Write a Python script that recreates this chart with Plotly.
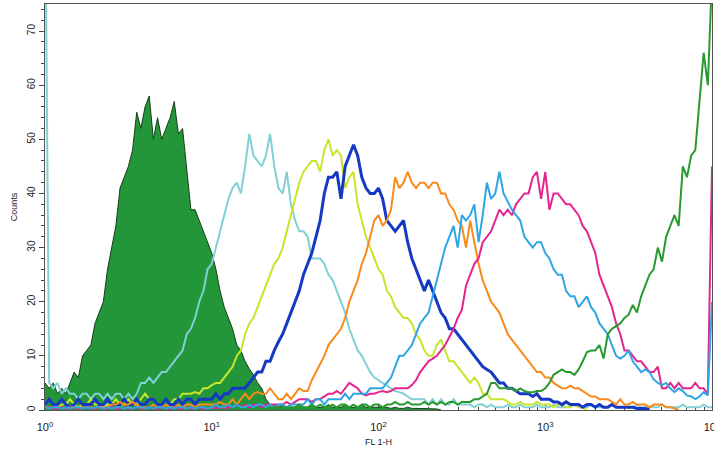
import plotly.graph_objects as go

# FL1-H channel grid: 161 channels evenly spaced over 4 log decades (1 .. 10^4)
CHANNELS_PER_DECADE = 40
N_CHANNELS = 161

# Counts per channel for each overlaid histogram (series start at channel index given)
unstained_start = 0
unstained = [5, 4, 5, 3, 4, 3, 5, 7, 6, 10,
             11, 12, 16, 18, 20, 26, 30, 34, 41, 43,
             45, 48, 55, 52, 56, 58, 50, 54, 50, 52,
             54, 57, 51, 52, 44, 37, 37, 35, 33, 31,
             29, 26, 22, 19, 17, 15, 12, 11, 9, 7.6,
             6.5, 5, 4, 2, 1, 1, 0.5, 1, 0.5, 0.5,
             0.5, 1, 0.5, 0.5, 1, 0.5, 0.5, 0.5, 1, 0.5,
             0.5, 0.5, 1, 0.5, 0.5, 0.5, 1, 0.5, 0.5, 0.5,
             0.5, 0.5, 0.5, 0.3, 0.5, 0.3, 0.3, 0.5, 0.3, 0.3,
             0.3, 0.3, 0.2, 0.2, 0.2, 0]

cyan_start = 0
cyan = [100, 5, 4, 5, 3, 4, 3, 3, 2, 3,
        3, 2, 3, 3, 2, 3, 2, 3, 3, 2,
        3, 2, 3, 5, 5, 6, 5, 6, 7, 7,
        8, 9, 10, 11, 14, 15, 17, 20, 22, 26,
        27, 30, 33, 36, 39, 41, 42, 40, 45, 51,
        47, 46, 45, 47, 51, 45, 41, 40, 44, 38,
        35, 33, 33, 32, 28, 28, 28, 27, 25, 24,
        22, 20, 18, 15, 13, 11, 10, 8.5, 7, 6,
        5.5, 5, 4.5, 4, 3.5, 3.3, 3, 2.5, 2, 2,
        2, 2, 1, 2, 1, 2, 1, 1, 2, 1,
        1, 1, 1, 0.5, 1, 1, 0.5, 1, 0.5, 0.5,
        0.5, 1, 0.5, 0.5, 1, 0.5, 0.5, 0.5, 1, 0.5,
        0.5, 0.5, 1, 0.5, 0.5, 0.5, 0.5, 1, 0.5, 0.5,
        0.5, 1, 0.5, 0.5, 0.5, 0.5, 1, 0.5, 0.5, 0.5,
        0.5, 0.5, 1, 0.5, 0.5, 0.5, 0.5, 0.5, 1, 0.5,
        0.5, 0.5, 0.5, 1, 0.5, 0.5, 0.5, 0.5, 1, 0.5,
        0.5]

yellow_start = 0
yellow = [1, 2, 1, 0.5, 1, 1, 2, 1, 0.5, 1,
          1, 2, 1, 1, 0.5, 1, 1, 2, 1, 1,
          2, 1, 1, 2, 3, 2, 2, 1, 1, 2,
          1, 2, 2, 3, 3, 3, 3.3, 3, 4, 4,
          4.6, 5, 5, 6, 7, 8, 10, 11, 14, 16,
          17, 19, 21, 23, 25, 27, 28, 30, 33, 36,
          39, 42, 44, 45, 46, 46, 44, 48, 50, 47,
          48, 47, 41, 43, 44, 38, 35, 32, 30, 28,
          26, 25, 22, 21, 19, 18, 17, 17, 16, 14,
          13, 11, 10, 10, 12, 13, 11, 9, 9, 8,
          7, 6, 5, 6, 5, 3, 3, 2, 2, 2,
          2, 1.5, 1, 1, 1.5, 1, 1, 1, 1.5, 1,
          1, 1, 0.5, 1, 1, 0.5, 0.5, 1, 0.5, 0.5,
          0]

blue_start = 0
blue = [1, 2, 1, 1, 2, 1, 0.5, 1, 2, 1,
        1, 1, 2, 1, 1, 2, 1, 1, 1, 2,
        1, 1, 2, 1, 1, 2, 2, 1, 1, 2,
        1, 1, 2, 1, 2, 2, 1, 2, 2, 2,
        2, 3, 2, 3, 3, 4, 4, 4, 4, 5,
        6, 7, 7, 9, 9, 11, 12.6, 14, 16, 18,
        20, 22, 25, 27, 29, 32, 35, 40, 43, 43,
        44, 39, 45, 47, 49, 47, 43, 41, 40, 40,
        41, 39, 35, 34, 33, 34, 35, 31, 28, 26,
        24, 22, 24, 22, 20, 18, 17, 15, 15, 14,
        13, 12, 11, 10, 9, 8, 7.5, 7, 6, 5,
        5, 4, 4, 3.5, 3, 3, 3, 2.5, 3, 2,
        2, 2, 1.5, 1.5, 1, 1.5, 1, 1, 1, 0.5,
        1, 1, 0.5, 1, 0.5, 0.5, 1, 0.5, 0.5, 0.5,
        0.5, 0.5, 0.3, 0.3, 0.3, 0]

orange_start = 0
orange = [0.5, 0.5, 0.3, 0.5, 0.5, 0.3, 0.5, 0.5, 0.3, 0.5,
          0.5, 0.5, 0.3, 0.5, 0.5, 0.5, 1, 1, 1.5, 1,
          1, 1.5, 1, 0.5, 0.5, 0.5, 1, 0.5, 0.5, 1,
          0.5, 0.5, 1, 0.5, 1, 1, 0.5, 1, 1, 1,
          1, 1, 1.5, 1, 1, 2, 1, 2, 3, 2,
          3, 3.3, 3, 3, 4, 3, 2, 2, 3, 2,
          3, 4, 3.5, 3.5, 5.5, 7, 8.5, 10, 12, 13,
          14, 15, 17, 20, 22, 24, 27, 29, 32, 35,
          36, 34, 35, 37, 43, 41, 42, 44, 42, 41,
          42, 42, 41, 42, 42, 40, 40, 38, 37, 35,
          34, 30, 35, 31, 27, 24, 22, 20, 19, 18,
          16, 14, 13, 12, 11, 10, 9, 8, 7, 7,
          6, 6, 5, 4.5, 4, 4, 4.5, 4, 4, 3.5,
          3, 2.5, 2.5, 2, 2, 2, 1.5, 1, 2, 1,
          1, 1.5, 1, 1, 1, 0.5, 1, 1, 1, 0.5,
          0.5, 0.3, 0]

magenta_start = 0
magenta = [0.3, 0.5, 0.3, 0.3, 0.5, 0.3, 0.3, 0.5, 0.3, 0.3,
           0.5, 0.3, 0.3, 0.5, 0.3, 0.3, 0.5, 0.3, 0.3, 0.5,
           0.3, 0.3, 0.5, 0.3, 0.3, 0.5, 0.3, 0.3, 0.5, 0.3,
           0.3, 0.5, 0.3, 0.3, 0.5, 0.3, 0.3, 0.5, 0.3, 0.3,
           0.5, 0.3, 0.5, 0.3, 0.5, 0.5, 1, 0.5, 1, 0.5,
           1, 1, 0.5, 1, 1, 1, 1, 1, 1.5, 1,
           1.5, 2, 2, 2, 1.5, 2, 2, 2.5, 3, 3,
           3.5, 3, 4, 5, 4.5, 4, 3, 2.7, 3, 3,
           3.3, 3.5, 3.3, 3.5, 4, 4, 4, 4, 4.6, 5.5,
           7, 8, 9, 9.5, 10, 11, 12, 13.5, 15, 17,
           18.5, 23, 25, 27, 28, 31, 32, 33, 35, 37,
           36, 37, 36, 38, 39, 40, 40, 43, 44, 39,
           44, 37, 40, 40, 39, 38, 38, 37, 36, 34,
           33, 31, 29, 25, 23, 21, 19, 16, 14, 11,
           11, 10, 9, 9, 8, 7, 7, 8, 4, 4,
           5, 4, 5, 4, 4, 4, 5, 4, 4, 3,
           45]

skyblue_start = 0
skyblue = [0.5, 0.3, 0.5, 0.5, 0.3, 0.5, 0.3, 0.5, 0.5, 0.3,
           0.5, 0.3, 0.5, 0.5, 0.3, 0.5, 0.3, 0.5, 0.5, 0.3,
           0.5, 0.3, 0.5, 0.5, 0.3, 0.5, 0.3, 0.5, 0.5, 0.3,
           0.5, 0.3, 0.5, 0.5, 0.3, 0.5, 0.3, 0.5, 0.5, 0.3,
           0.5, 1, 0.5, 0.5, 1, 0.5, 1, 0.5, 0.5, 1,
           0.5, 1, 1, 0.5, 1, 0.5, 1, 1, 0.5, 1,
           1, 1, 1, 2, 1, 2, 2, 1, 2, 2,
           2, 2, 3, 2, 3, 3, 3, 3, 4, 4,
           4, 4, 5, 6, 8, 10, 10, 11, 12, 14,
           16, 17, 18, 21, 24, 27, 30, 32, 34, 30,
           36, 35, 36, 38, 31, 36, 42, 39, 40, 44,
           40, 38.5, 37, 36, 35, 32, 31, 30, 31, 31,
           29, 28, 26, 25, 25, 22, 21, 21, 19, 20,
           21, 19, 18, 16, 15, 14, 12, 10, 9.5, 10,
           11, 9, 8, 7, 7.5, 7, 5.7, 5, 4.6, 5,
           4, 3.3, 4, 3.5, 2.7, 2.5, 2, 2.5, 3.3, 2.7,
           20]

green_start = 50
green = [0, 0, 0, 0, 0.3, 0.5, 0.5, 0.3, 0.5, 0.5,
         0.5, 1, 0.5, 0.5, 1, 0.5, 1, 0.5, 0.5, 1,
         0.5, 1, 1, 0.5, 1, 0.5, 1, 1, 0.5, 1,
         1, 0.5, 1, 1, 1.5, 1, 1, 1.5, 1, 1,
         1, 1.5, 1, 1.5, 1, 1.5, 1, 1.5, 1.5, 1,
         1.5, 1.5, 1.5, 2, 2, 2.5, 3, 5, 5, 4,
         4, 4, 4, 3.5, 4, 3.5, 3.3, 3.3, 3.5, 3.5,
         4, 5, 6.5, 7, 7.5, 7, 7, 6.5, 7.5, 9,
         10.7, 11, 11, 12, 9.5, 14, 15, 15.5, 16, 17,
         17.6, 19.4, 18, 21, 23, 25, 26, 30, 27.4, 32,
         34, 36, 34, 45, 43, 47, 48, 57, 66, 60,
         80]

# FL1-H value at each channel
channel_fl1 = [10 ** (i / CHANNELS_PER_DECADE) for i in range(N_CHANNELS)]


def fl1_for(start, counts):
    return channel_fl1[start:start + len(counts)]


FONT = "Liberation Sans, Arial, sans-serif"

fig = go.Figure()

fig.add_trace(go.Scatter(
    x=fl1_for(unstained_start, unstained), y=unstained,
    mode="lines", fill="tozeroy", fillcolor="#23963a",
    line=dict(color="#173f17", width=1), hoverinfo="skip"))

line_series = [
    (cyan_start, cyan, "#80d0d4", 2.0),
    (yellow_start, yellow, "#c9e42c", 2.0),
    (blue_start, blue, "#1639c4", 3.0),
    (orange_start, orange, "#f98a1c", 2.0),
    (magenta_start, magenta, "#e3268f", 2.0),
    (skyblue_start, skyblue, "#2ea6e4", 2.0),
    (green_start, green, "#2a9a30", 2.0),
]
for start, counts, color, width in line_series:
    fig.add_trace(go.Scatter(
        x=fl1_for(start, counts), y=counts, mode="lines",
        line=dict(color=color, width=width), hoverinfo="skip"))

decade_vals = [1, 10, 100, 1000, 10000]
decade_text = ["10<sup>0</sup>", "10<sup>1</sup>", "10<sup>2</sup>",
               "10<sup>3</sup>", "10<sup>4</sup>"]
minor_vals = [k * 10 ** p for p in range(4) for k in range(2, 10)]

fig.update_layout(
    width=714, height=452,
    margin=dict(l=45, r=2, t=4, b=42),
    paper_bgcolor="white", plot_bgcolor="white",
    showlegend=False,
    font=dict(family=FONT, size=10, color="#222"),
    xaxis=dict(
        type="log", range=[0, 4], automargin=False,
        tickmode="array", tickvals=decade_vals, ticktext=decade_text,
        ticklabeloverflow="allow", ticklabelstandoff=7,
        ticks="inside", ticklen=5, tickcolor="#444",
        minor=dict(tickmode="array", tickvals=minor_vals,
                   ticks="inside", ticklen=3, tickcolor="#444"),
        showline=True, linecolor="#555", linewidth=1, mirror=True,
        showgrid=False, zeroline=False, layer="below traces",
        tickfont=dict(size=11, family=FONT, color="#222"),
        title=dict(text="FL 1-H", font=dict(size=9, family=FONT, color="#222"),
                   standoff=6),
    ),
    yaxis=dict(
        range=[0, 75], automargin=False,
        tick0=0, dtick=10, tickangle=-90,
        ticks="outside", ticklen=5, tickcolor="#444",
        minor=dict(dtick=2, ticks="outside", ticklen=3, tickcolor="#444"),
        showline=True, linecolor="#555", linewidth=1, mirror=True,
        showgrid=False, zeroline=False, layer="below traces",
        tickfont=dict(size=10, family=FONT, color="#222"),
        title=dict(text="Counts", font=dict(size=9, family=FONT, color="#222"),
                   standoff=6),
    ),
)

fig.write_html("out.html")
